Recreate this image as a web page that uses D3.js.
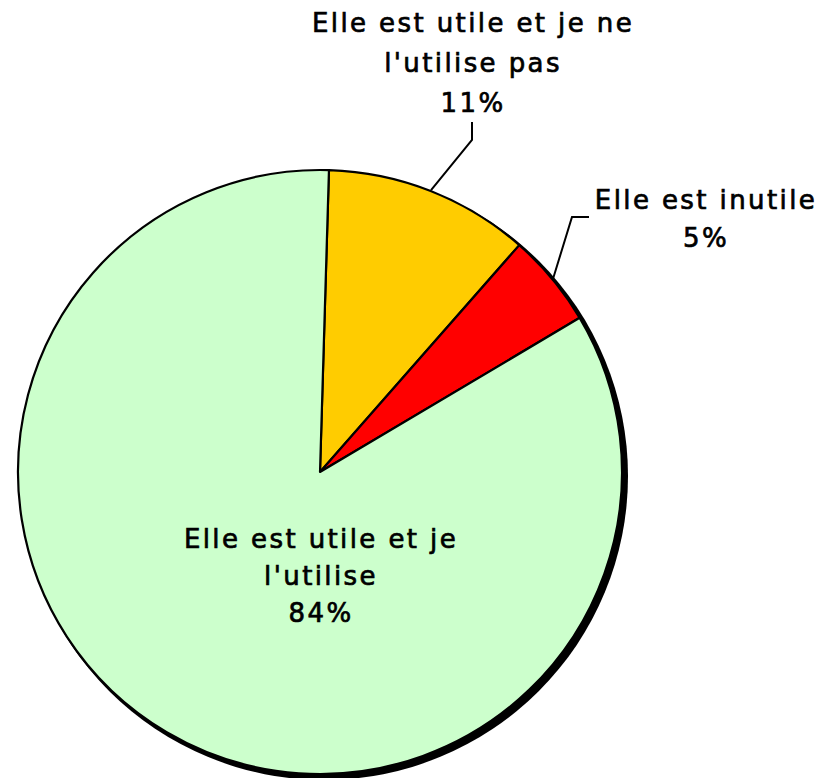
<!DOCTYPE html>
<html lang="fr">
<head>
  <meta charset="UTF-8">
  <script src="https://d3js.org/d3.v7.min.js"></script>
  <style>
    body { margin: 0; background: #fff; }
    svg { display: block; }
  </style>
</head>
<body>
  <svg width="823" height="778"></svg>
  <script>
    // données
    const categories = ["Elle est utile et je ne l'utilise pas", "Elle est inutile", "Elle est utile et je l'utilise"];
    const values = [11, 5, 84];
    const labelLines = [
      ["Elle est utile et je ne", "l'utilise pas", "11%"],
      ["Elle est inutile", "5%"],
      ["Elle est utile et je", "l'utilise", "84%"]
    ];
    const colors = ["#ffcc00", "#ff0000", "#ccffcc"];

    const svg = d3.select("svg");
    const cx = 320, cy = 472, r = 302;
    const rot = 1.7 * Math.PI / 180;

    const pie = d3.pie().sort(null).startAngle(rot).endAngle(rot + 2 * Math.PI);
    const arcs = pie(values);
    const arc = d3.arc().innerRadius(0).outerRadius(r);

    const g = svg.append("g").attr("transform", `translate(${cx},${cy})`);

    // ombre
    g.append("circle")
      .attr("cx", 4).attr("cy", 4).attr("r", r + 2)
      .attr("fill", "#000");

    g.selectAll("path.slice")
      .data(arcs)
      .enter()
      .append("path")
      .attr("class", "slice")
      .attr("d", arc)
      .attr("fill", (d, i) => colors[i])
      .attr("stroke", "#000")
      .attr("stroke-width", 2.2)
      .attr("stroke-linejoin", "round");

    // étiquettes (position relative au centre)
    const labelPos = [
      { x: 153, y: -440, lh: 40 },
      { x: 386, y: -263, lh: 38 },
      { x: 1, y: 76, lh: 37 }
    ];

    labelLines.forEach((lines, i) => {
      const t = g.append("text")
        .attr("text-anchor", "middle")
        .attr("font-family", "'DejaVu Sans', Verdana, sans-serif")
        .attr("font-size", 26)
        .attr("letter-spacing", 2.4)
        .attr("fill", "#000")
        .attr("stroke", "#000")
        .attr("stroke-width", 0.7);
      lines.forEach((s, j) => {
        t.append("tspan")
          .attr("x", labelPos[i].x)
          .attr("y", labelPos[i].y + j * labelPos[i].lh)
          .text(s);
      });
    });

    // traits de rappel
    const mid = d => (d.startAngle + d.endAngle) / 2;
    const onArc = d => [Math.sin(mid(d)) * (r + 1), -Math.cos(mid(d)) * (r + 1)];
    const p0 = onArc(arcs[0]);
    const p1 = onArc(arcs[1]);
    const leaders = [
      [p0, [152, -332], [152, -350]],
      [p1, [252, -255], [269, -255]]
    ];
    g.selectAll("path.leader")
      .data(leaders)
      .enter()
      .append("path")
      .attr("class", "leader")
      .attr("d", d3.line())
      .attr("fill", "none")
      .attr("stroke", "#000")
      .attr("stroke-width", 2);
  </script>
</body>
</html>
